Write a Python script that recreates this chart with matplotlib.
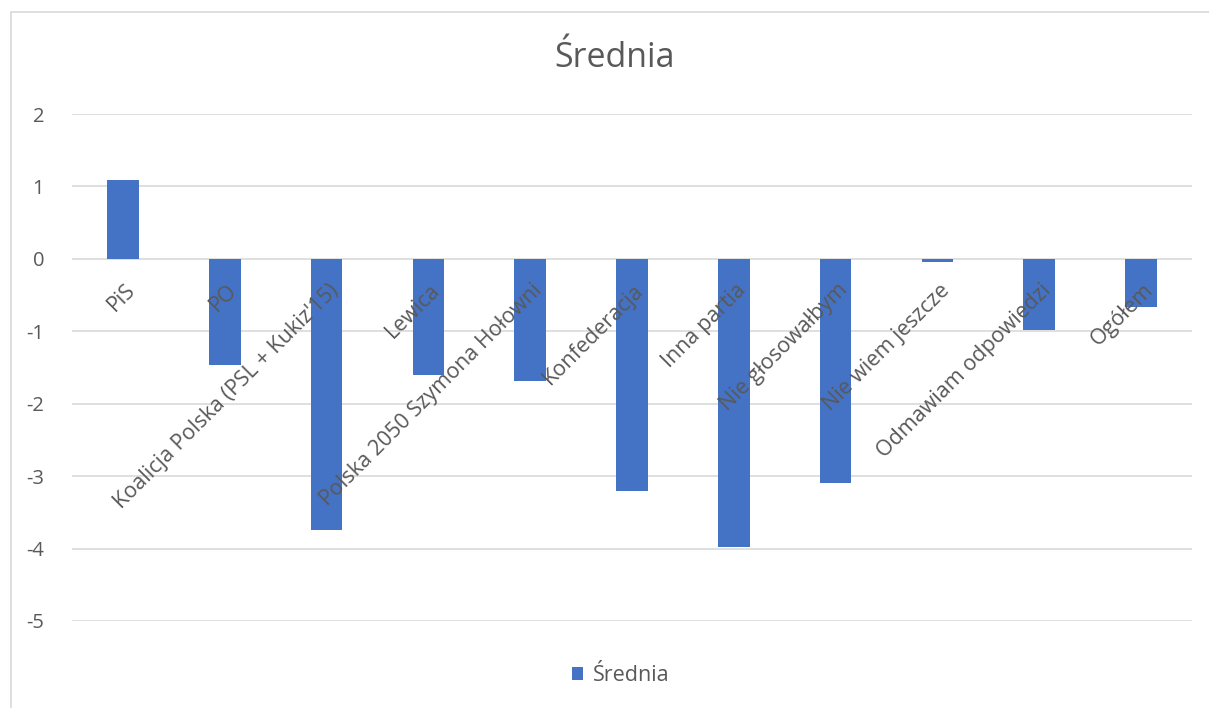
import matplotlib.pyplot as plt
from matplotlib.patches import Rectangle

plt.rcParams['font.family'] = ['Open Sans', 'DejaVu Sans']

categories = ["PiS", "PO", "Koalicja Polska (PSL + Kukiz'15)", "Lewica",
              "Polska 2050 Szymona Hołowni", "Konfederacja", "Inna partia",
              "Nie głosowałbym", "Nie wiem jeszcze", "Odmawiam odpowiedzi", "Ogółem"]
srednia = [1.09, -1.47, -3.75, -1.61, -1.68, -3.21, -3.98, -3.10, -0.05, -0.98, -0.66]
y_ticks = [2, 1, 0, -1, -2, -3, -4, -5]

grey_text = "#595959"
bar_color = "#4472C4"
grid_color = "#d9d9d9"

W, H = 1209, 708
fig = plt.figure(figsize=(W / 100, H / 100), dpi=100)

# chart area border (Excel style, cropped on the right and bottom)
fig.patches.append(Rectangle((11 / W, -0.05), 1.2, 1 - 12 / H + 0.05,
                             transform=fig.transFigure, fill=False,
                             edgecolor="#d9d9d9", linewidth=1.2))

ax = fig.add_axes([72 / W, (H - 621) / H, (1192 - 72) / W, (621 - 114) / H])
x = list(range(len(categories)))
ax.bar(x, srednia, width=0.31, color=bar_color, label="Średnia", zorder=3)

ax.set_xlim(-0.5, len(categories) - 0.5)
ax.set_ylim(-5, 2)
ax.set_yticks(y_ticks)
ax.set_yticklabels([str(v) for v in y_ticks])
ax.yaxis.grid(True, color=grid_color, linewidth=1.2, zorder=0)
ax.tick_params(axis='y', length=0, pad=20, labelsize=14.5, labelcolor=grey_text)
ax.set_xticks([])

for s in ax.spines.values():
    s.set_visible(False)

# category labels drawn on top of the bars, like Excel does
for i, lab in enumerate(categories):
    ax.annotate(lab, xy=(i, 0), xytext=(1, -15), textcoords='offset points',
                rotation=45, ha='right', va='top', rotation_mode='anchor',
                fontsize=15.5, color=grey_text, zorder=5)

fig.text(615 / W, 1 - 58 / H, "Średnia", ha='center', va='center',
         fontsize=24.5, color=grey_text)

ax.legend(loc='center', bbox_to_anchor=(0.49, -0.108), frameon=False,
          fontsize=15.5, labelcolor=grey_text, handlelength=0.5,
          handleheight=0.5, handletextpad=0.45)

fig.savefig("out.png", dpi=100)
